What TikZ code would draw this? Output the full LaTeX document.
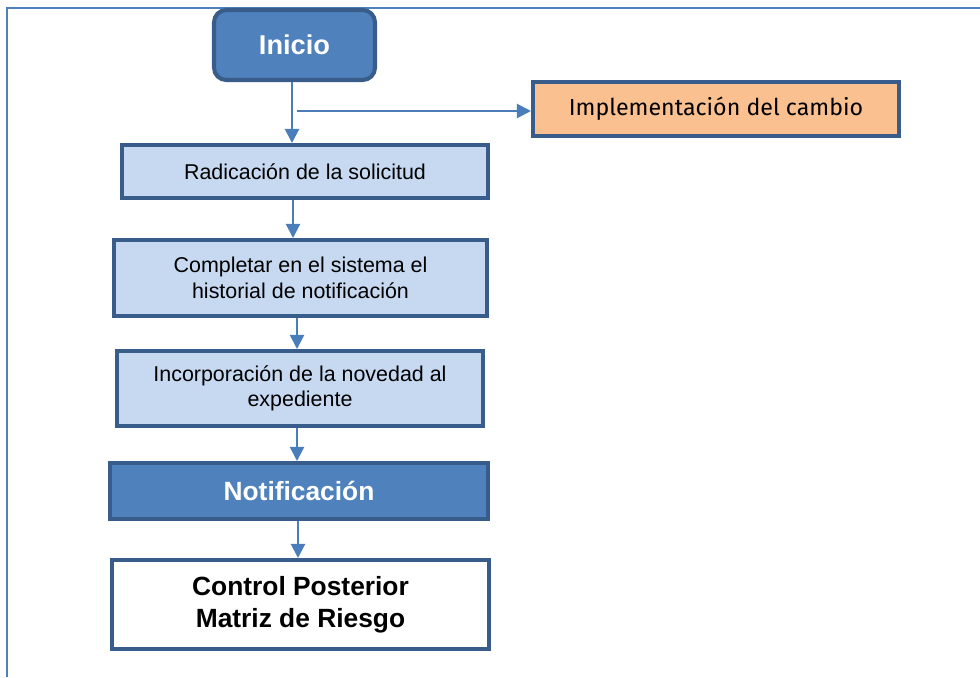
\documentclass[tikz,border=0pt]{standalone}
\usepackage{fontspec}
\setmainfont{Liberation Sans}
\newfontfamily\dinfont{Fira Sans}
\usepackage{xcolor}
\definecolor{azul}{HTML}{4F81BD}
\definecolor{azuloscuro}{HTML}{385D8A}
\definecolor{azulclaro}{HTML}{C6D9F1}
\definecolor{naranja}{HTML}{FAC090}
\definecolor{flecha}{HTML}{4A7EBB}
\usetikzlibrary{arrows.meta}

\begin{document}
\begin{tikzpicture}[x=0.02cm,y=-0.02cm,
    caja/.style={draw=azuloscuro,line width=2.3pt,inner sep=2pt,align=center},
    paso/.style={caja,fill=azulclaro,font=\fontsize{12.2}{14.5}\selectfont},
    etapa/.style={caja,fill=azul,text=white,font=\fontsize{15}{18}\selectfont\bfseries},
    flujo/.style={draw=flecha,line width=1.2pt,-{Triangle[length=8pt,width=8pt]}}]
            \useasboundingbox (0,0) rectangle (980,677);
            \draw[azul,line width=1.3pt] (7,677) -- (7,8) -- (980,8);
            \node[etapa,rounded corners=7pt,minimum width=161*0.02cm,minimum height=70*0.02cm,font=\fontsize{15.5}{19}\selectfont\bfseries] at (294.5,45) (inicio) {Inicio};
            \node[caja,fill=naranja,minimum width=366*0.02cm,minimum height=54*0.02cm,font=\dinfont\fontsize{13.2}{15}\selectfont] at (716,109) (cambio) {Implementación del cambio};
            \node[paso,minimum width=366*0.02cm,minimum height=53*0.02cm] at (305,171.5) (radicacion) {Radicación de la solicitud};
            \node[paso,minimum width=373*0.02cm,minimum height=76*0.02cm] at (300.5,278) (completar) {Completar en el sistema el\\historial de notificación};
            \node[paso,minimum width=366*0.02cm,minimum height=75*0.02cm] at (300,388.5) (incorporacion) {Incorporación de la novedad al\\expediente};
            \node[etapa,minimum width=378*0.02cm,minimum height=56*0.02cm] at (299,491) (notificacion) {Notificación};
            \node[caja,fill=white,minimum width=377*0.02cm,minimum height=89*0.02cm,font=\fontsize{15}{18.5}\selectfont\bfseries] at (300.5,604.5) (control) {Control Posterior\\Matriz de Riesgo};
            \coordinate (rama) at (297,111);
            \draw[flujo] (inicio.south -| 292,0) -- (radicacion.north -| 292,0);
            \draw[flujo] (rama) -- (rama -| cambio.west);
            \draw[flujo] (radicacion.south -| 293,0) -- (completar.north -| 293,0);
            \draw[flujo] (completar.south -| 297,0) -- (incorporacion.north -| 297,0);
            \draw[flujo] (incorporacion.south -| 297,0) -- (notificacion.north -| 297,0);
            \draw[flujo] (notificacion.south -| 298,0) -- (control.north -| 298,0);
          \end{tikzpicture}
\end{document}
